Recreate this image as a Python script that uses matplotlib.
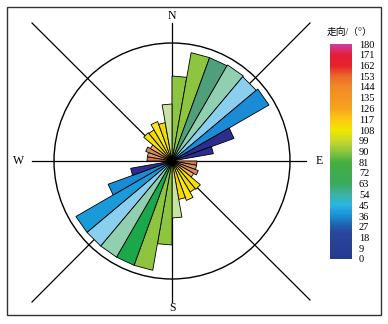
import numpy as np
import matplotlib
matplotlib.use('Agg')
import matplotlib.pyplot as plt
from matplotlib.patches import Polygon, Circle, Rectangle
from matplotlib.colors import LinearSegmentedColormap, Normalize
import matplotlib.colorbar as mcb

# ---- data ----
bin_start = list(range(0, 360, 10))          # azimuth of each 10-degree bin
bin_width = 10
lengths = [85, 110, 110, 111, 110, 112, 66, 42, 0,
           25, 25, 28, 25, 37, 36, 42, 39, 57,
           84, 111, 111, 111, 111, 111, 68, 42, 0,
           25, 25, 28, 25, 37, 36, 42, 39, 57]
bar_colors = ['#8dc540', '#8dc540', '#4f9f7a', '#90d0b0', '#8ad0ee', '#1a8cd6', '#2b2e8f', '#2b2e90', '#2b2e90',
              '#d9773f', '#e09a6a', '#d9885a', '#f3b060', '#f5e000', '#f5dc00', '#f8e61a', '#f0d800', '#c8e3a0',
              '#8dc540', '#8dc540', '#1aa84a', '#90d0b0', '#8ad0ee', '#1a9ad8', '#1a8cd6', '#2b2e8f', '#2b2e8f',
              '#d9773f', '#e09a6a', '#d9885a', '#f3b060', '#f5e000', '#f5dc00', '#f8e61a', '#f0d800', '#c8e3a0']
circle_radius = 118
cbar_ticks = list(range(0, 181, 9))
cbar_title = '走向/（°）'
directions = ['N', 'E', 'S', 'W']

plt.rcParams['font.family'] = ['Liberation Serif', 'Noto Sans CJK SC']

fig = plt.figure(figsize=(3.88, 3.24), dpi=100)
ax = fig.add_axes([0, 0, 1, 1])
ax.set_xlim(-172, 216)
ax.set_ylim(-163, 161)
ax.set_aspect('equal')
ax.axis('off')

# frame
ax.add_patch(Rectangle((-165, -154), 374, 308, fill=False, ec='#333333', lw=1.0))

# guide lines
ax.plot([0, 0], [138, -141], color='black', lw=0.9, zorder=1)
ax.plot([-140, 134], [0, 0], color='black', lw=0.9, zorder=1)
ax.plot([-140, 138], [138, -139], color='black', lw=0.9, zorder=1)
ax.plot([-140, 138], [-141, 138], color='black', lw=0.9, zorder=1)
ax.add_patch(Circle((0, 0), circle_radius, fill=False, ec='black', lw=1.0, zorder=1))

# rose bars
for a0, r, c in zip(bin_start, lengths, bar_colors):
    if r <= 0:
        continue
    t0 = np.radians(a0)
    t1 = np.radians(a0 + bin_width)
    pts = [(0, 0), (r * np.sin(t0), r * np.cos(t0)), (r * np.sin(t1), r * np.cos(t1))]
    ax.add_patch(Polygon(pts, closed=True, fc=c, ec='black', lw=0.6, zorder=3))
ax.add_patch(Circle((0, 0), 4, fc='black', ec='none', zorder=4))

# direction labels
pos = {'N': (0, 145), 'E': (147, 0), 'S': (0, -147), 'W': (-153, 0)}
for d in directions:
    ax.text(*pos[d], d, ha='center', va='center', fontsize=8.5, zorder=5)

# colorbar
cmap = LinearSegmentedColormap.from_list('strike', [
    (0.00, '#253a8f'), (0.12, '#27479c'), (0.16, '#2063b2'), (0.20, '#1a8fd6'),
    (0.25, '#2ab4e4'), (0.30, '#3db3a0'), (0.35, '#3aaa5e'), (0.45, '#45ae40'),
    (0.50, '#8cc63f'), (0.55, '#c8d82a'), (0.60, '#f2e600'), (0.65, '#fcc814'),
    (0.70, '#f7a41c'), (0.80, '#f08a28'), (0.85, '#ec6a2c'), (0.90, '#e6232a'),
    (0.95, '#e41e38'), (1.00, '#d23aa0')])
cax = fig.add_axes([330 / 388, (324 - 259) / 324, 22 / 388, (259 - 44) / 324])
cb = mcb.ColorbarBase(cax, cmap=cmap, norm=Normalize(0, 180), orientation='vertical')
cb.set_ticks(cbar_ticks)
cb.set_ticklabels([str(t) for t in cbar_ticks])
cb.outline.set_visible(False)
cax.tick_params(length=0, pad=5, labelsize=7.5)
fig.text(350 / 388, 1 - 32 / 324, cbar_title, ha='center', va='center', fontsize=7)

fig.savefig('out.png', dpi=100)
